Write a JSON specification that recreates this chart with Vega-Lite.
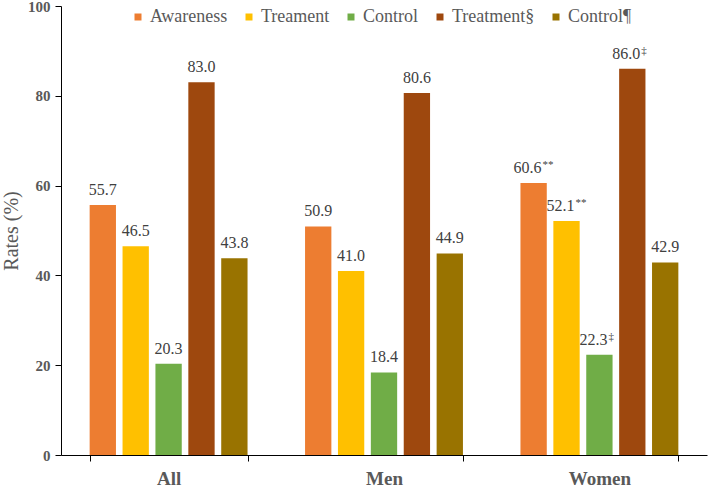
{
  "$schema": "https://vega.github.io/schema/vega-lite/v6.json",
  "width": 646,
  "height": 449,
  "autosize": "none",
  "padding": {"left": 61, "top": 6, "right": 2, "bottom": 32},
  "background": "white",
  "config": {
    "view": {"stroke": null},
    "font": "Liberation Serif",
    "text": {"font": "Liberation Serif"},
    "legend": {"labelFont": "Liberation Serif"}
  },
  "data": {"values": [
    {"group": "All", "measure": "Awareness", "rate": 55.7, "note": ""},
    {"group": "All", "measure": "Treament", "rate": 46.5, "note": ""},
    {"group": "All", "measure": "Control", "rate": 20.3, "note": ""},
    {"group": "All", "measure": "Treatment§", "rate": 83.0, "note": ""},
    {"group": "All", "measure": "Control¶", "rate": 43.8, "note": ""},
    {"group": "Men", "measure": "Awareness", "rate": 50.9, "note": ""},
    {"group": "Men", "measure": "Treament", "rate": 41.0, "note": ""},
    {"group": "Men", "measure": "Control", "rate": 18.4, "note": ""},
    {"group": "Men", "measure": "Treatment§", "rate": 80.6, "note": ""},
    {"group": "Men", "measure": "Control¶", "rate": 44.9, "note": ""},
    {"group": "Women", "measure": "Awareness", "rate": 60.6, "note": "**"},
    {"group": "Women", "measure": "Treament", "rate": 52.1, "note": "**"},
    {"group": "Women", "measure": "Control", "rate": 22.3, "note": "‡"},
    {"group": "Women", "measure": "Treatment§", "rate": 86.0, "note": "‡"},
    {"group": "Women", "measure": "Control¶", "rate": 42.9, "note": ""}
  ]},
  "encoding": {
    "x": {
      "field": "group", "type": "nominal", "sort": ["All", "Men", "Women"],
      "scale": {"paddingInner": 0.267, "paddingOuter": 0.133},
      "axis": {
        "title": null, "labelAngle": 0, "labelFont": "Liberation Serif", "labelFontSize": 19,
        "labelFontWeight": "bold", "labelColor": "#595959", "labelPadding": 8,
        "domainColor": "#000000", "domainWidth": 1.2, "tickColor": "#000000", "tickBand": "extent", "tickSize": 6
      }
    },
    "xOffset": {
      "field": "measure", "type": "nominal",
      "sort": ["Awareness", "Treament", "Control", "Treatment§", "Control¶"],
      "scale": {"paddingInner": 0.2, "paddingOuter": 0}
    },
    "y": {
      "field": "rate", "type": "quantitative",
      "scale": {"domain": [0, 100]},
      "axis": {
        "title": "Rates (%)", "titleFont": "Liberation Serif", "titleFontSize": 20, "titleFontWeight": "normal",
        "titleColor": "#595959", "titlePadding": 6,
        "values": [0, 20, 40, 60, 80, 100], "grid": false,
        "labelFont": "Liberation Serif", "labelFontSize": 15, "labelFontWeight": "bold", "labelColor": "#595959",
        "domainColor": "#000000", "tickColor": "#000000", "tickSize": 6, "labelPadding": 5
      }
    }
  },
  "layer": [
    {
      "mark": {"type": "bar"},
      "encoding": {
        "color": {
          "field": "measure", "type": "nominal",
          "sort": ["Awareness", "Treament", "Control", "Treatment§", "Control¶"],
          "scale": {
            "domain": ["Awareness", "Treament", "Control", "Treatment§", "Control¶"],
            "range": ["#ED7D31", "#FFC000", "#70AD47", "#9E480E", "#997300"]
          },
          "legend": {
            "title": null, "orient": "none", "direction": "horizontal", "legendX": 68, "legendY": 2,
            "symbolType": "square", "symbolSize": 49, "symbolStrokeWidth": 0,
            "labelFont": "Liberation Serif", "labelFontSize": 18, "labelColor": "#595959",
            "columnPadding": 12, "symbolOffset": 0, "labelOffset": 3
          }
        }
      }
    },
    {
      "transform": [{"filter": "datum.note == ''"}],
      "mark": {"type": "text", "baseline": "alphabetic", "dy": -10, "fontSize": 16, "font": "Liberation Serif", "color": "#404040"},
      "encoding": {"text": {"field": "rate", "type": "quantitative", "format": ".1f"}}
    },
    {
      "transform": [{"filter": "datum.note != ''"}],
      "mark": {"type": "text", "baseline": "alphabetic", "dy": -10, "dx": -6, "fontSize": 16, "font": "Liberation Serif", "color": "#404040"},
      "encoding": {"text": {"field": "rate", "type": "quantitative", "format": ".1f"}}
    },
    {
      "transform": [{"filter": "datum.note != ''"}],
      "mark": {"type": "text", "baseline": "alphabetic", "align": "left", "dy": -15, "dx": 9, "fontSize": 11, "font": "Liberation Serif", "color": "#404040"},
      "encoding": {"text": {"field": "note"}}
    }
  ]
}
